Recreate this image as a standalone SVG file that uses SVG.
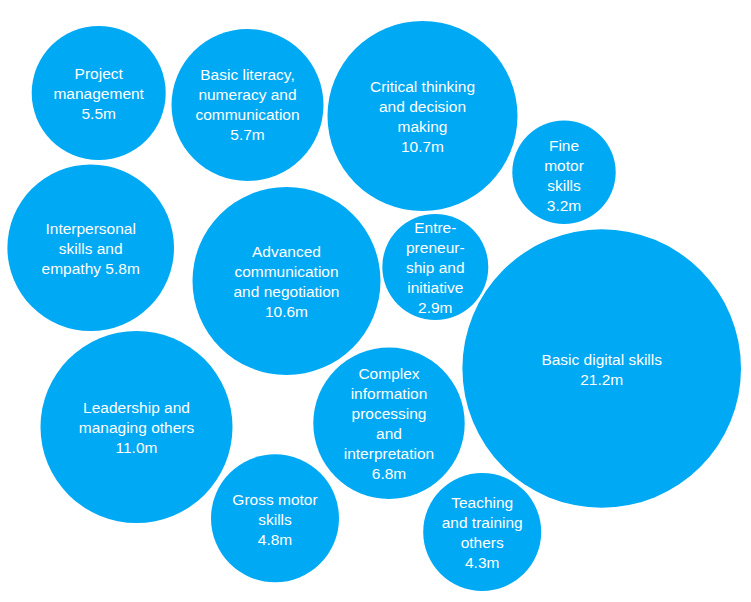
<svg xmlns="http://www.w3.org/2000/svg" width="751" height="602" viewBox="0 0 751 602">
<style>
.b{fill:#00a9f4}
.t{fill:#ffffff;font-family:"Liberation Sans",Arial,sans-serif;font-size:15.5px;text-anchor:middle}
</style>
<rect width="751" height="602" fill="#ffffff"/>
<g id="project-management">
<circle class="b" cx="98.7" cy="93" r="67"/>
<text class="t"><tspan x="98.7" y="79">Project</tspan><tspan x="98.7" y="99">management</tspan><tspan x="98.7" y="119">5.5m</tspan></text>
</g>
<g id="basic-literacy">
<circle class="b" cx="247.5" cy="105" r="76"/>
<text class="t"><tspan x="247.5" y="80">Basic literacy,</tspan><tspan x="247.5" y="100">numeracy and</tspan><tspan x="247.5" y="120">communication</tspan><tspan x="247.5" y="140">5.7m</tspan></text>
</g>
<g id="critical-thinking">
<circle class="b" cx="422.5" cy="116" r="95"/>
<text class="t"><tspan x="422.5" y="92">Critical thinking</tspan><tspan x="422.5" y="112">and decision</tspan><tspan x="422.5" y="132">making</tspan><tspan x="422.5" y="152">10.7m</tspan></text>
</g>
<g id="fine-motor">
<circle class="b" cx="564" cy="172.3" r="51.7"/>
<text class="t"><tspan x="564" y="151">Fine</tspan><tspan x="564" y="171">motor</tspan><tspan x="564" y="191">skills</tspan><tspan x="564" y="211">3.2m</tspan></text>
</g>
<g id="interpersonal">
<circle class="b" cx="90.7" cy="247.7" r="83.3"/>
<text class="t"><tspan x="90.7" y="234">Interpersonal</tspan><tspan x="90.7" y="254">skills and</tspan><tspan x="90.7" y="274">empathy 5.8m</tspan></text>
</g>
<g id="advanced-communication">
<circle class="b" cx="286.5" cy="281" r="94"/>
<text class="t"><tspan x="286.5" y="257">Advanced</tspan><tspan x="286.5" y="277">communication</tspan><tspan x="286.5" y="297">and negotiation</tspan><tspan x="286.5" y="317">10.6m</tspan></text>
</g>
<g id="entrepreneurship">
<circle class="b" cx="435.3" cy="267" r="53"/>
<text class="t"><tspan x="435.3" y="233">Entre-</tspan><tspan x="435.3" y="253">preneur-</tspan><tspan x="435.3" y="273">ship and</tspan><tspan x="435.3" y="293">initiative</tspan><tspan x="435.3" y="313">2.9m</tspan></text>
</g>
<g id="basic-digital">
<circle class="b" cx="601.7" cy="368.5" r="139.3"/>
<text class="t"><tspan x="601.7" y="365">Basic digital skills</tspan><tspan x="601.7" y="385">21.2m</tspan></text>
</g>
<g id="leadership">
<circle class="b" cx="136.5" cy="427" r="96"/>
<text class="t"><tspan x="136.5" y="413">Leadership and</tspan><tspan x="136.5" y="433">managing others</tspan><tspan x="136.5" y="453">11.0m</tspan></text>
</g>
<g id="complex-information">
<circle class="b" cx="389" cy="423.2" r="75.7"/>
<text class="t"><tspan x="389" y="379">Complex</tspan><tspan x="389" y="399">information</tspan><tspan x="389" y="419">processing</tspan><tspan x="389" y="439">and</tspan><tspan x="389" y="459">interpretation</tspan><tspan x="389" y="479">6.8m</tspan></text>
</g>
<g id="gross-motor">
<circle class="b" cx="275" cy="518.3" r="64"/>
<text class="t"><tspan x="275" y="504.5">Gross motor</tspan><tspan x="275" y="524.5">skills</tspan><tspan x="275" y="544.5">4.8m</tspan></text>
</g>
<g id="teaching">
<circle class="b" cx="482.2" cy="532" r="59"/>
<text class="t"><tspan x="482.2" y="508">Teaching</tspan><tspan x="482.2" y="528">and training</tspan><tspan x="482.2" y="548">others</tspan><tspan x="482.2" y="568">4.3m</tspan></text>
</g>
</svg>
